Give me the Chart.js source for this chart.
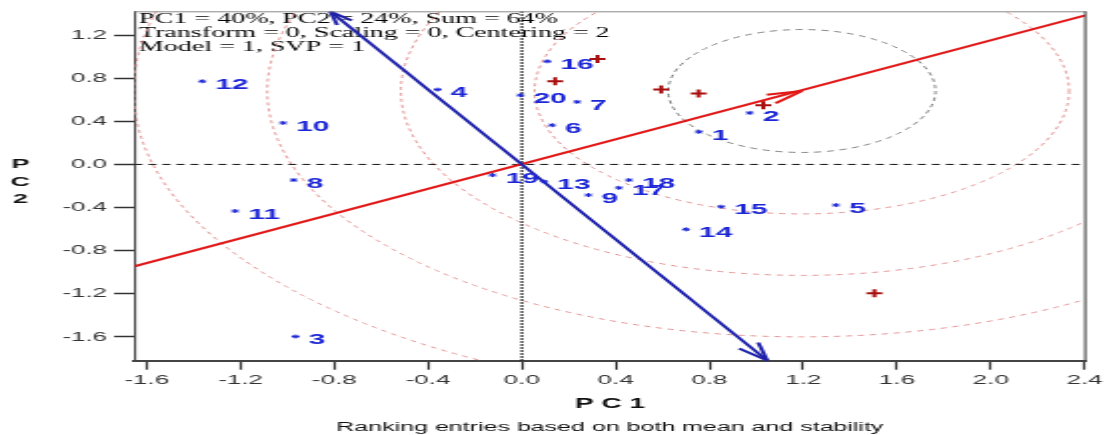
<!DOCTYPE html>
<html>
<head>
<meta charset="utf-8">
<script src="https://cdn.jsdelivr.net/npm/chart.js@4/dist/chart.umd.min.js"></script>
<style>
  html, body { margin: 0; padding: 0; background: #ffffff; overflow: hidden; }
  #wrap { width: 555px; height: 435px; transform: scaleX(1.998198); transform-origin: 0 0; }
  canvas { display: block; }
</style>
</head>
<body>
<div id="wrap"><canvas id="c" width="555" height="435"></canvas></div>
<script>
// ---------- data ----------
const xTicks = [-1.6, -1.2, -0.8, -0.4, 0.0, 0.4, 0.8, 1.2, 1.6, 2.0, 2.4];
const yTicks = [-1.6, -1.2, -0.8, -0.4, 0.0, 0.4, 0.8, 1.2];
const xRange = [-1.652, 2.403];
const yRange = [-1.82, 1.42];

const genotypeLabels = ['1','2','3','4','5','6','7','8','9','10','11','12','13','14','15','16','17','18','19','20'];
const genotypePC1 = [0.755, 0.972, -0.965, -0.359, 1.34, 0.129, 0.236, -0.973, 0.284, -1.018, -1.223, -1.363, 0.095, 0.70, 0.85, 0.109, 0.414, 0.457, -0.125, -0.006];
const genotypePC2 = [0.302, 0.478, -1.596, 0.694, -0.377, 0.364, 0.58, -0.145, -0.284, 0.385, -0.432, 0.771, -0.16, -0.602, -0.392, 0.956, -0.217, -0.145, -0.099, 0.642];

const environmentPC1 = [0.323, 0.142, 0.594, 0.754, 1.030, 1.504];
const environmentPC2 = [0.978, 0.771, 0.694, 0.657, 0.549, -1.195];

const idealPoint = [1.194, 0.681];            // arrow tip on the average-environment axis
const ringRadii = [0.57, 1.14, 1.71, 2.28, 2.85];
const aeaLineX = [-1.652, 2.403];             // average environment axis
const aeaLineY = [-0.945, 1.382];
const aecLineX = [-0.817, 1.047];             // perpendicular axis
const aecLineY = [1.419, -1.818];

const headerLines = [
  'PC1 = 40%, PC2 = 24%, Sum = 64%',
  'Transform = 0, Scaling = 0, Centering = 2',
  'Model = 1, SVP = 1'
];
const xTitle = 'P C 1';
const yTitleLetters = ['P', 'C', '2'];
const bottomTitle = 'Ranking entries based on both mean and stability';

// ---------- styles ----------
const BLUE = '#1c26d4';
const LINE_BLUE = '#1f22a8';
const RED = '#e01818';
const DARKRED = '#a81010';

const toPts = (xs, ys) => xs.map((x, i) => ({ x: x, y: ys[i] }));

const biplotPlugin = {
  id: 'biplot',
  beforeDatasetsDraw(chart) {
    const { ctx, chartArea: a, scales: { x, y } } = chart;
    ctx.save();
    // header text
    ctx.fillStyle = '#000';
    ctx.font = '14px "Liberation Serif", "Times New Roman", serif';
    ctx.textAlign = 'left';
    ctx.textBaseline = 'alphabetic';
    headerLines.forEach((t, i) => ctx.fillText(t, a.left + 2.3, 23 + i * 14));
    // concentric rings around the ideal point
    ctx.beginPath();
    ctx.rect(a.left, a.top, a.right - a.left, a.bottom - a.top);
    ctx.clip();
    const cx = x.getPixelForValue(idealPoint[0]);
    const cy = y.getPixelForValue(idealPoint[1]);
    const ux = x.getPixelForValue(1) - x.getPixelForValue(0);
    const uy = y.getPixelForValue(0) - y.getPixelForValue(1);
    ringRadii.forEach((r, i) => {
      ctx.beginPath();
      ctx.ellipse(cx, cy, r * ux, r * uy, 0, 0, Math.PI * 2);
      ctx.lineWidth = 1;
      if (i === 0) {
        ctx.strokeStyle = '#808080';
        ctx.setLineDash([3.5, 3]);
      } else {
        ctx.strokeStyle = '#e29494';
        ctx.setLineDash([3, 3]);
      }
      ctx.stroke();
    });
    ctx.restore();
  },
  afterDatasetsDraw(chart) {
    const { ctx, chartArea: a, scales: { x, y } } = chart;
    ctx.save();
    // arrow heads
    const head = (tx, ty, bx, by, color, ang, len) => {
      const px = x.getPixelForValue(tx), py = y.getPixelForValue(ty);
      const qx = x.getPixelForValue(bx), qy = y.getPixelForValue(by);
      const d = Math.hypot(qx - px, qy - py);
      const vx = (qx - px) / d, vy = (qy - py) / d;
      ctx.strokeStyle = color;
      ctx.lineWidth = 2;
      ctx.setLineDash([]);
      [ang, -ang].forEach(t => {
        const c = Math.cos(t), s = Math.sin(t);
        ctx.beginPath();
        ctx.moveTo(px, py);
        ctx.lineTo(px + len * (vx * c - vy * s), py + len * (vx * s + vy * c));
        ctx.stroke();
      });
    };
    head(idealPoint[0], idealPoint[1], 0, 0, RED, 0.27, 18);
    head(aecLineX[1], aecLineY[1], aecLineX[0], aecLineY[0], LINE_BLUE, 0.31, 18.5);
    head(aecLineX[0], aecLineY[0], aecLineX[1], aecLineY[1], LINE_BLUE, 0.31, 14);
    // genotype labels
    ctx.fillStyle = BLUE;
    ctx.font = 'bold 15px Arial, "Liberation Sans", sans-serif';
    ctx.textAlign = 'left';
    ctx.textBaseline = 'middle';
    genotypeLabels.forEach((t, i) => {
      const px = x.getPixelForValue(genotypePC1[i]);
      const py = y.getPixelForValue(genotypePC2[i]);
      ctx.fillText(t, px + 6.5, py + 3.5);
    });
    ctx.restore();
  },
  afterDraw(chart) {
    const { ctx, chartArea: a } = chart;
    ctx.save();
    // top and right frame
    ctx.strokeStyle = '#8a8a8a';
    ctx.lineWidth = 1;
    ctx.beginPath();
    ctx.moveTo(a.left, a.top + 0.5);
    ctx.lineTo(a.right, a.top + 0.5);
    ctx.stroke();
    ctx.strokeStyle = '#444';
    ctx.lineWidth = 1.1;
    ctx.beginPath();
    ctx.moveTo(a.right, a.top);
    ctx.lineTo(a.right, a.bottom);
    ctx.stroke();
    // stacked y title
    ctx.fillStyle = '#111';
    ctx.font = 'bold 13.5px Arial, "Liberation Sans", sans-serif';
    ctx.textAlign = 'center';
    ctx.textBaseline = 'middle';
    yTitleLetters.forEach((t, i) => ctx.fillText(t, 10.2, 164 + i * 17.8));
    ctx.restore();
  }
};

new Chart(document.getElementById('c'), {
  type: 'scatter',
  data: {
    datasets: [
      {
        label: 'Genotypes',
        data: toPts(genotypePC1, genotypePC2),
        pointStyle: 'star',
        radius: 2,
        borderColor: BLUE,
        backgroundColor: BLUE,
        borderWidth: 1,
        order: 1
      },
      {
        label: 'Environments',
        data: toPts(environmentPC1, environmentPC2),
        pointStyle: 'cross',
        radius: 4,
        borderColor: DARKRED,
        borderWidth: 2,
        order: 2
      },
      {
        label: 'AEC ordinate',
        data: toPts(aecLineX, aecLineY),
        showLine: true,
        borderColor: LINE_BLUE,
        borderWidth: 2,
        pointRadius: 0,
        order: 3
      },
      {
        label: 'AEC abscissa',
        data: toPts(aeaLineX, aeaLineY),
        showLine: true,
        borderColor: RED,
        borderWidth: 2,
        pointRadius: 0,
        order: 4
      },
      {
        label: 'PC2 = 0',
        data: toPts(xRange, [0, 0]),
        showLine: true,
        borderColor: '#111',
        borderWidth: 1,
        borderDash: [4, 3],
        pointRadius: 0,
        order: 5
      },
      {
        label: 'PC1 = 0',
        data: toPts([0, 0], yRange),
        showLine: true,
        borderColor: '#111',
        borderWidth: 1.4,
        borderDash: [1.5, 1.5],
        pointRadius: 0,
        order: 6
      }
    ]
  },
  options: {
    responsive: false,
    animation: false,
    devicePixelRatio: 1,
    layout: { padding: { left: 0, right: 9.25, top: 11, bottom: 0 } },
    plugins: {
      legend: { display: false },
      tooltip: { enabled: false },
      title: {
        display: true,
        position: 'bottom',
        fullSize: false,
        text: bottomTitle,
        color: '#111',
        font: { family: 'Arial, "Liberation Sans", sans-serif', size: 12.5, weight: 'normal' },
        padding: { top: 4, bottom: 0 }
      }
    },
    scales: {
      x: {
        type: 'linear',
        min: xRange[0],
        max: xRange[1],
        afterBuildTicks: s => { s.ticks = xTicks.map(v => ({ value: v })); },
        afterFit: s => { s.height = 55.3; },
        ticks: {
          callback: v => Number(v).toFixed(1),
          color: '#333',
          font: { family: 'Arial, "Liberation Sans", sans-serif', size: 13 },
          padding: 3.2,
          maxRotation: 0,
          autoSkip: false
        },
        grid: { display: true, drawOnChartArea: false, drawTicks: true, tickLength: 9, tickColor: '#333', tickWidth: 1.2 },
        border: { display: true, color: '#444', width: 2 },
        title: {
          display: true,
          text: xTitle,
          color: '#111',
          font: { family: 'Arial, "Liberation Sans", sans-serif', size: 14, weight: 'bold' },
          padding: { top: 0, bottom: 3.6 }
        }
      },
      y: {
        type: 'linear',
        min: yRange[0],
        max: yRange[1],
        afterBuildTicks: s => { s.ticks = yTicks.map(v => ({ value: v })); },
        afterFit: s => { s.width = 67.31; },
        ticks: {
          callback: v => Number(v).toFixed(1),
          color: '#333',
          font: { family: 'Arial, "Liberation Sans", sans-serif', size: 13 },
          padding: 3.5,
          autoSkip: false
        },
        grid: { display: true, drawOnChartArea: false, drawTicks: true, tickLength: 10.25, tickColor: '#333', tickWidth: 1.5 },
        border: { display: true, color: '#444', width: 1.1 }
      }
    }
  },
  plugins: [biplotPlugin]
});
</script>
</body>
</html>
